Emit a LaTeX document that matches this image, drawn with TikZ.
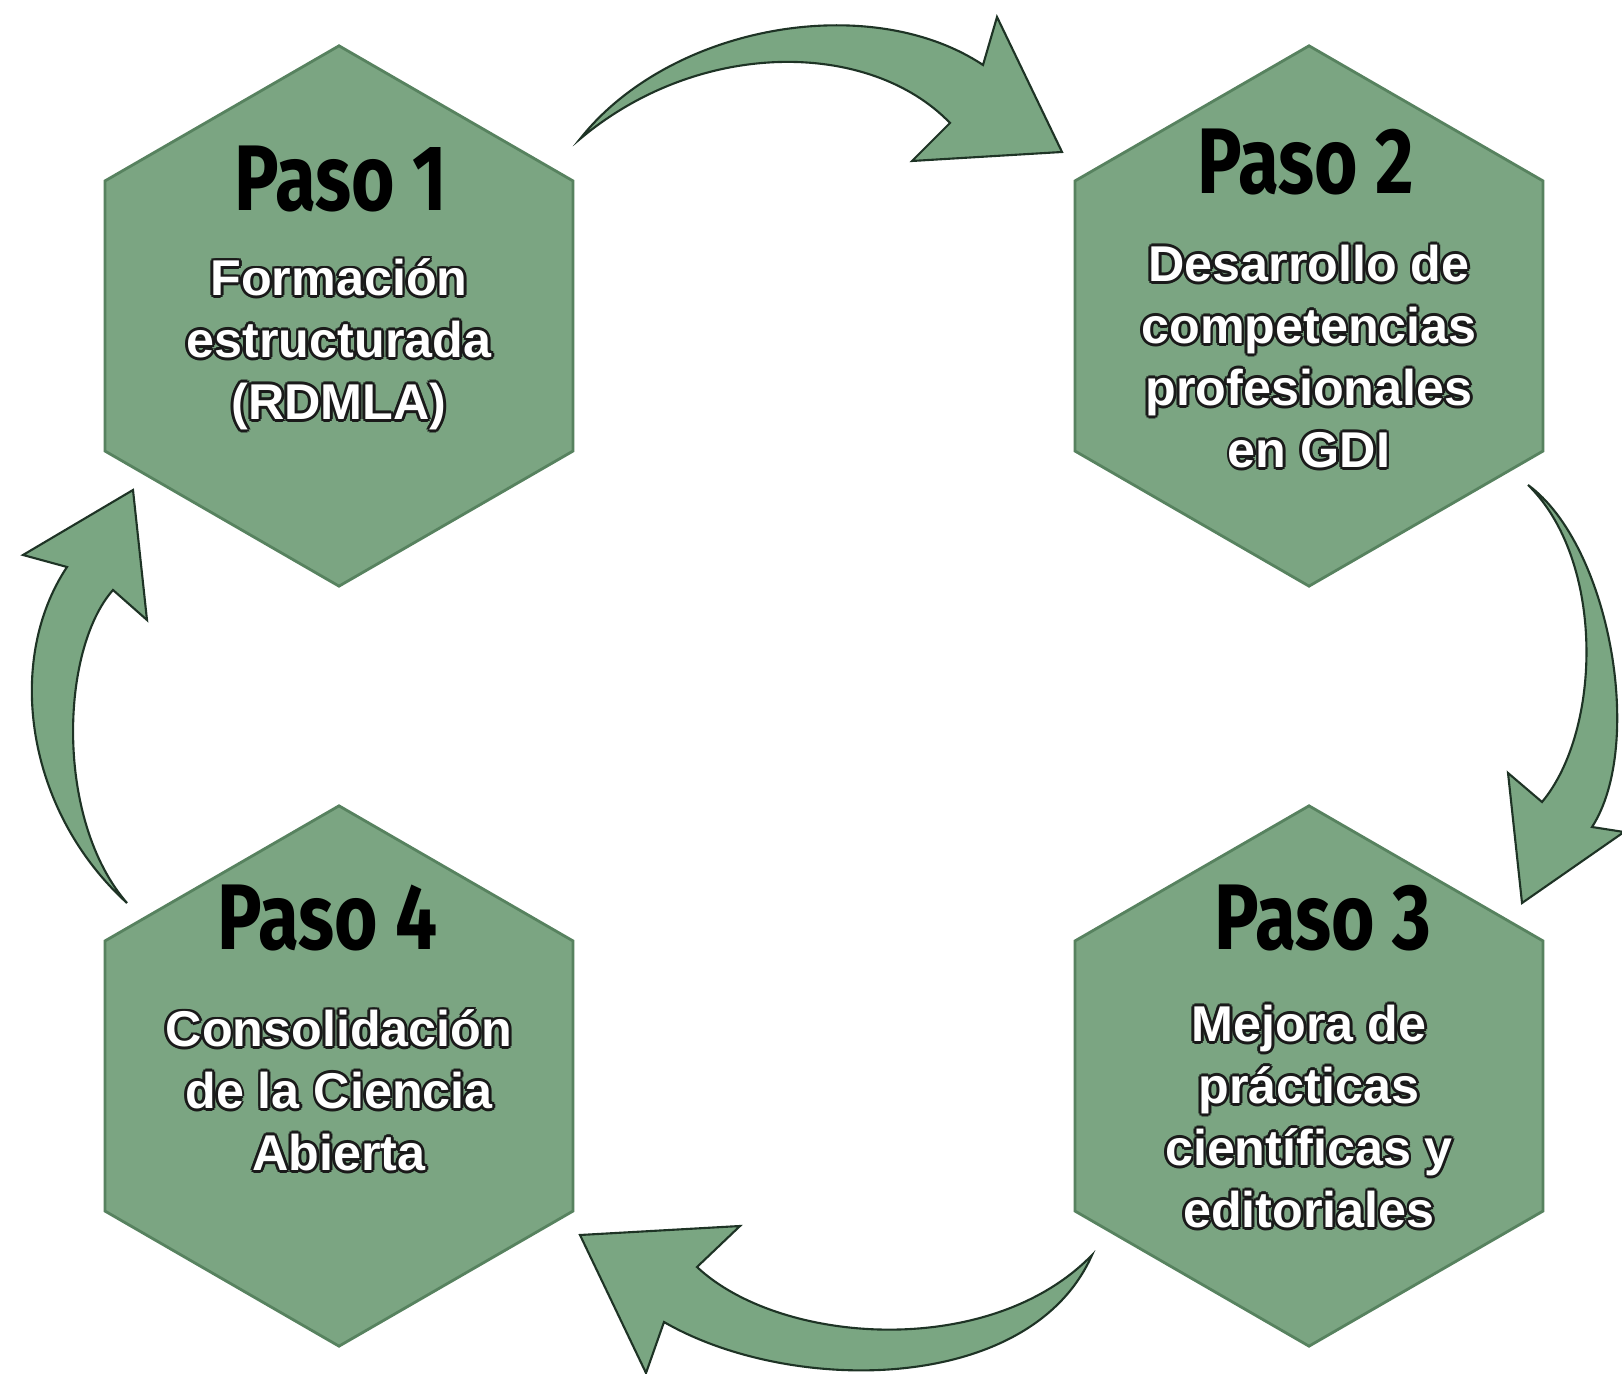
\documentclass[tikz,border=0pt]{standalone}
\usepackage{fontspec}
\setmainfont{Liberation Sans}
\newfontfamily\pasofont{Fira Sans}[FakeStretch=0.8]
\usepackage{contour}
\contourlength{0.8pt}
\contournumber{8}
\usetikzlibrary{shapes.geometric}

\definecolor{hexgreen}{HTML}{7BA582}
\definecolor{hexedge}{HTML}{57825F}
\definecolor{arrowgreen}{HTML}{7AA682}
\definecolor{arrowedge}{HTML}{1E3325}
\definecolor{outlinedark}{HTML}{1A1A1A}

\newcommand{\wl}[1]{\contour{outlinedark}{#1}}

\tikzset{
  hexa/.style={regular polygon, regular polygon sides=6, shape border rotate=30,
    minimum size=5.4cm, inner sep=0pt, draw=hexedge, fill=hexgreen, line width=0.8pt},
  paso/.style={font=\pasofont\bfseries\fontsize{26.5}{30}\selectfont, text=black,
    anchor=base, inner sep=0pt},
  desc/.style={font=\bfseries\fontsize{14.3}{17.6}\selectfont, text=white,
    align=center, inner sep=0pt},
  blockarrow/.style={fill=arrowgreen, draw=arrowedge, line width=0.6pt, line join=miter}
}

\begin{document}
\begin{tikzpicture}[x=0.01cm,y=-0.01cm]
\useasboundingbox (0,0) rectangle (1622,1374);
\fill[white] (0,0) rectangle (1622,1374);

% hexagons
\node[hexa] (p1) at (339,316) {};
\node[hexa] (p2) at (1309,316) {};
\node[hexa] (p3) at (1309,1076) {};
\node[hexa] (p4) at (339,1076) {};

% step titles
\node[paso] (t1) at (341,211) {Paso 1};
\node[paso] (t2) at (1306,194) {Paso 2};
\node[paso] (t3) at (1323,949) {Paso 3};
\node[paso] (t4) at (328,949) {Paso 4};

% descriptions
\node[desc] (d1) at (339,346) {\wl{Formación}\\\wl{estructurada}\\\wl{(RDMLA)}};
\node[desc] (d2) at (1309,358) {\wl{Desarrollo de}\\\wl{competencias}\\\wl{profesionales}\\\wl{en GDI}};
\node[desc] (d3) at (1309,1118) {\wl{Mejora de}\\\wl{prácticas}\\\wl{científicas y}\\\wl{editoriales}};
\node[desc] (d4) at (339,1092) {\wl{Consolidación}\\\wl{de la Ciencia}\\\wl{Abierta}};

% curved arrows
\draw[blockarrow] (580,139) .. controls (670,25) and (870,-10) .. (983,65)
  -- (997,17) -- (1062,152) -- (912,161) -- (950,123)
  .. controls (870,40) and (700,38) .. (580,139) -- cycle;
\draw[blockarrow] (1528,485) .. controls (1610,545) and (1645,745) .. (1592,827)
  -- (1624,832) -- (1522,903) -- (1508,773) -- (1542,802)
  .. controls (1602,730) and (1605,560) .. (1528,485) -- cycle;
\draw[blockarrow] (1092,1255) .. controls (1030,1395) and (790,1395) .. (664,1322)
  -- (646,1373) -- (580,1235) -- (740,1226) -- (697,1267)
  .. controls (780,1345) and (990,1360) .. (1092,1255) -- cycle;
\draw[blockarrow] (127,903) .. controls (25,810) and (5,660) .. (67,567)
  -- (23,555) -- (133,490) -- (147,620) -- (113,590)
  .. controls (60,650) and (55,820) .. (127,903) -- cycle;
\end{tikzpicture}
\end{document}
